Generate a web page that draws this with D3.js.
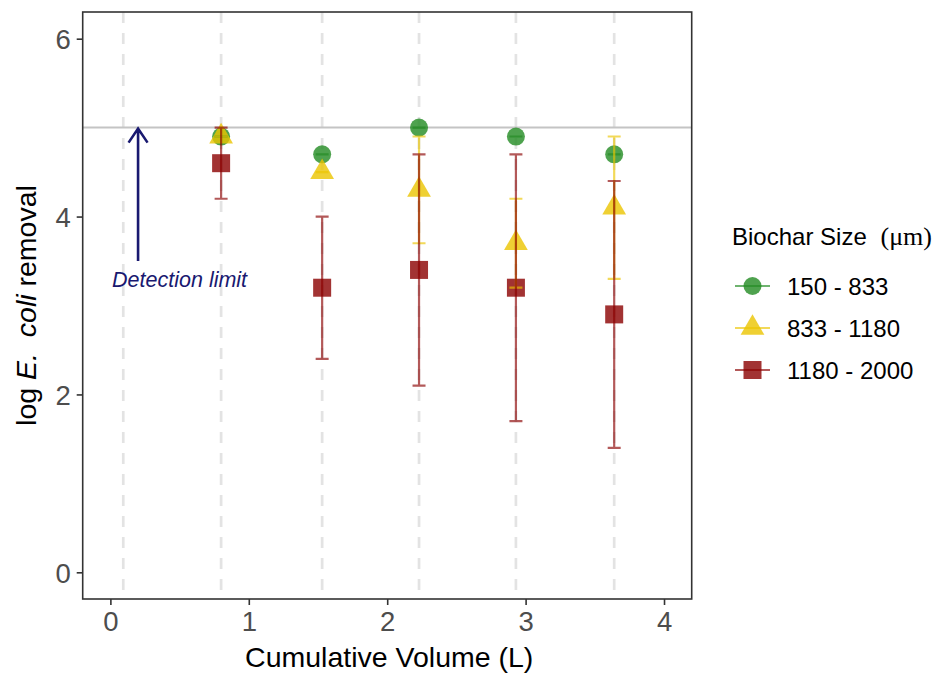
<!DOCTYPE html>
<html><head><meta charset="utf-8">
<script src="https://cdn.jsdelivr.net/npm/d3@7"></script>
<style>body{margin:0;background:#fff}svg{display:block}</style>
</head><body><svg id="c" width="937" height="674"></svg>
<script>
// ---- data ----
const volumes = [0.8, 1.53, 2.23, 2.93, 3.64];
const sampleLines = [0.093, 0.8, 1.53, 2.23, 2.93, 3.64];
const seriesNames = ["150 - 833", "833 - 1180", "1180 - 2000"];
const meanSmall = [4.9, 4.7, 5.0, 4.9, 4.7];
const lowSmall  = [4.9, 4.7, 5.0, 4.9, 4.7];
const highSmall = [4.9, 4.7, 5.0, 4.9, 4.7];
const meanMid = [4.9, 4.5, 4.3, 3.7, 4.1];
const lowMid  = [4.9, 4.5, 3.7, 3.2, 3.3];
const highMid = [4.9, 4.5, 4.9, 4.2, 4.9];
const meanLarge = [4.6, 3.2, 3.4, 3.2, 2.9];
const lowLarge  = [4.2, 2.4, 2.1, 1.7, 1.4];
const highLarge = [5.0, 4.0, 4.7, 4.7, 4.4];
const xTicks = [0, 1, 2, 3, 4];
const yTicks = [0, 2, 4, 6];
const detectionLimit = 5;
const arrowX = 0.2, arrowFrom = 3.5;
const labelX = 0.5, labelY = 3.25;

const colors = ["#228B22", "#EBC400", "#8B0000"];
const shapes = ["circle", "triangle", "square"];
const series = seriesNames.map((name, i) => ({
  name, color: colors[i], shape: shapes[i],
  values: volumes.map((v, j) => ({
    x: v,
    y: [meanSmall, meanMid, meanLarge][i][j],
    lo: [lowSmall, lowMid, lowLarge][i][j],
    hi: [highSmall, highMid, highLarge][i][j]
  }))
}));

// ---- layout ----
const svg = d3.select("#c");
const P = {l: 82.7, r: 691.7, t: 12, b: 599};
const x = d3.scaleLinear().domain([-0.2, 4.2]).range([P.l, P.r]);
const y = d3.scaleLinear().domain([-0.3, 6.3]).range([P.b, P.t]);
const FONT = "'Liberation Sans', Arial, Helvetica, sans-serif";
const SERIF = "'Liberation Serif', 'Times New Roman', serif";

// dashed sample lines
svg.append("g").selectAll("line").data(sampleLines).join("line")
  .attr("x1", d => x(d)).attr("x2", d => x(d))
  .attr("y1", P.t).attr("y2", P.b)
  .attr("stroke", "#e3e3e3").attr("stroke-width", 2.7)
  .attr("stroke-dasharray", "11,10");

// detection limit line
svg.append("line")
  .attr("x1", P.l).attr("x2", P.r)
  .attr("y1", y(detectionLimit)).attr("y2", y(detectionLimit))
  .attr("stroke", "#c4c4c4").attr("stroke-width", 2);

// arrow
const ax = x(arrowX), ay0 = y(arrowFrom), ay1 = y(detectionLimit);
svg.append("path")
  .attr("d", `M${ax},${ay0}L${ax},${ay1 + 1}M${ax - 9.5},${ay1 + 15}L${ax},${ay1 + 1}L${ax + 9.5},${ay1 + 15}`)
  .attr("fill", "none").attr("stroke", "#191970").attr("stroke-width", 2.6)
  .attr("stroke-linejoin", "miter");
svg.append("text").attr("x", x(labelX)).attr("y", y(labelY) + 4)
  .attr("text-anchor", "middle").attr("font-family", FONT)
  .attr("font-style", "italic").attr("font-size", 21.5).attr("fill", "#191970")
  .text("Detection limit");

// symbols
function drawShape(g, shape, cx, cy, s, color, op) {
  if (shape === "circle") {
    g.append("circle").attr("cx", cx).attr("cy", cy).attr("r", s)
      .attr("fill", color).attr("fill-opacity", op);
  } else if (shape === "square") {
    g.append("rect").attr("x", cx - s).attr("y", cy - s)
      .attr("width", 2 * s).attr("height", 2 * s)
      .attr("fill", color).attr("fill-opacity", op);
  } else {
    const r = 1.555 * s * 0.9, xc = 1.347 * s * 0.9, yc = 0.778 * s * 0.9;
    g.append("path")
      .attr("d", `M${cx},${cy - r}L${cx + xc},${cy + yc}L${cx - xc},${cy + yc}Z`)
      .attr("fill", color).attr("fill-opacity", op);
  }
}
const sizes = {circle: 9, square: 9, triangle: 9.8};

// points
const gp = svg.append("g");
series.forEach(s => {
  s.values.forEach(d => drawShape(gp, s.shape, x(d.x), y(d.y), sizes[s.shape], s.color, 0.8));
});

// error bars
const ge = svg.append("g");
series.forEach(s => {
  s.values.forEach(d => {
    const cx = x(d.x);
    ge.append("path")
      .attr("d", `M${cx - 6.5},${y(d.hi)}H${cx + 6.5}M${cx},${y(d.hi)}V${y(d.lo)}M${cx - 6.5},${y(d.lo)}H${cx + 6.5}`)
      .attr("fill", "none").attr("stroke", s.color).attr("stroke-opacity", 0.65)
      .attr("stroke-width", 2.2);
  });
});

// panel border
svg.append("rect").attr("x", P.l).attr("y", P.t)
  .attr("width", P.r - P.l).attr("height", P.b - P.t)
  .attr("fill", "none").attr("stroke", "#333").attr("stroke-width", 1.6);

// axes
const xAxis = svg.append("g").attr("transform", `translate(0,${P.b})`)
  .call(d3.axisBottom(x).tickValues(xTicks).tickSize(6).tickPadding(6).tickFormat(d3.format("d")));
const yAxis = svg.append("g").attr("transform", `translate(${P.l},0)`)
  .call(d3.axisLeft(y).tickValues(yTicks).tickSize(6).tickPadding(6).tickFormat(d3.format("d")));
[xAxis, yAxis].forEach(a => {
  a.select(".domain").remove();
  a.selectAll(".tick line").attr("stroke", "#333").attr("stroke-width", 1.6);
  a.selectAll(".tick text").attr("fill", "#4d4d4d").attr("font-size", 27.5).attr("font-family", FONT);
});
xAxis.selectAll(".tick text").attr("dy", "0.71em");
yAxis.selectAll(".tick text").attr("dy", "0.36em");

// axis titles
svg.append("text").attr("x", (P.l + P.r) / 2 + 2).attr("y", 667)
  .attr("text-anchor", "middle").attr("font-family", FONT).attr("font-size", 28.5)
  .attr("fill", "#000").text("Cumulative Volume (L)");
const yt = svg.append("text").attr("transform", `translate(36,${(P.t + P.b) / 2}) rotate(-90)`)
  .attr("text-anchor", "middle").attr("font-family", FONT).attr("font-size", 28.5)
  .attr("fill", "#000").attr("xml:space", "preserve");
yt.append("tspan").text("log ");
yt.append("tspan").attr("font-style", "italic").text("E.");
yt.append("tspan").text("  ");
yt.append("tspan").attr("font-style", "italic").text("coli");
yt.append("tspan").text(" removal");

// legend
const lg = svg.append("g");
lg.append("text").attr("x", 732).attr("y", 245)
  .attr("font-family", FONT).attr("font-size", 24).attr("fill", "#000")
  .text("Biochar Size");
lg.append("text").attr("x", 932).attr("y", 245).attr("text-anchor", "end")
  .attr("font-family", SERIF).attr("font-size", 26).attr("fill", "#000")
  .text("(μm)");
series.forEach((s, i) => {
  const cy = 286 + i * 42;
  const g = lg.append("g");
  g.append("line").attr("x1", 735).attr("x2", 770).attr("y1", cy).attr("y2", cy)
    .attr("stroke", s.color).attr("stroke-opacity", 0.65).attr("stroke-width", 2.2);
  drawShape(g, s.shape, 752.5, cy, sizes[s.shape], s.color, 0.8);
  g.append("text").attr("x", 787).attr("y", cy + 8.5)
    .attr("font-family", FONT).attr("font-size", 24).attr("fill", "#000").text(s.name);
});
</script>
</body></html>
